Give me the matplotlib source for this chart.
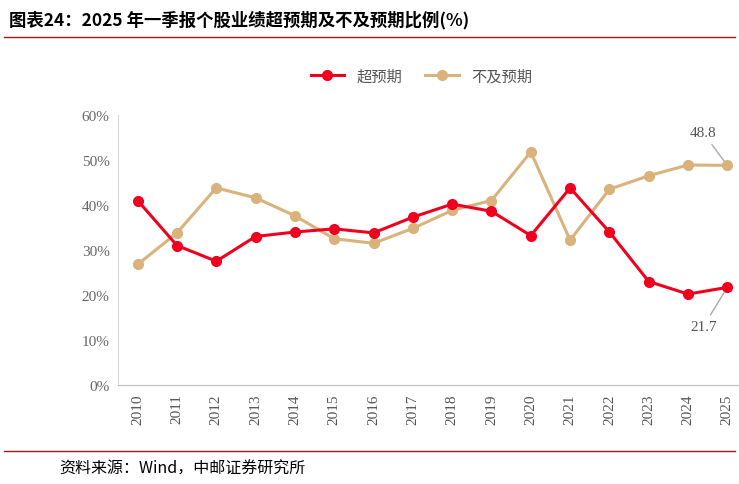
import matplotlib.pyplot as plt
from matplotlib.lines import Line2D

years = [str(y) for y in range(2010, 2026)]
beat = [41.0, 31.0, 27.5, 33.0, 34.0, 34.7, 33.8, 37.3, 40.2, 38.6, 33.2, 43.8, 34.0, 23.0, 20.2, 21.7]
miss = [26.8, 33.8, 43.8, 41.6, 37.6, 32.5, 31.5, 34.8, 38.8, 41.0, 51.8, 32.2, 43.5, 46.5, 48.9, 48.8]

cjk = ['Noto Sans CJK SC', 'DejaVu Sans']
red = '#F0001E'
tan = '#D9B27C'

fig = plt.figure(figsize=(7.39, 4.85), dpi=100)
ax = fig.add_axes([118 / 739, 1 - 386 / 485, (747 - 118) / 739, (386 - 116) / 485])
x = range(len(years))
ax.plot(x, beat, color=red, lw=2.2, marker='o', ms=7, label='超预期', zorder=3)
ax.plot(x, miss, color=tan, lw=2.2, marker='o', ms=7, label='不及预期', zorder=2)
ax.set_xlim(-0.5, 15.5)
ax.set_ylim(0, 60)
ax.set_yticks(range(0, 61, 10))
ax.set_yticklabels([f'{v}%' for v in range(0, 61, 10)], family='Liberation Serif', fontsize=11, color='#666666')
ax.set_xticks(list(x))
ax.set_xticklabels(years, rotation=90, family='Liberation Serif', fontsize=11, color='#555555')
ax.tick_params(length=0, pad=6)
for s in ['top', 'right']:
    ax.spines[s].set_visible(False)
ax.spines['left'].set_color('#d9d9d9')
ax.spines['bottom'].set_color('#bfbfbf')

ax.annotate(f'{miss[-1]:.1f}', (15, miss[-1]), xytext=(14.05, 56), fontsize=11,
            family='Liberation Serif', color='#555555', annotation_clip=False, va='center',
            arrowprops=dict(arrowstyle='-', color='#aaaaaa', lw=1, shrinkA=2, shrinkB=4))
ax.annotate(f'{beat[-1]:.1f}', (15, beat[-1]), xytext=(14.05, 13), fontsize=11,
            family='Liberation Serif', color='#555555', annotation_clip=False, va='center',
            arrowprops=dict(arrowstyle='-', color='#aaaaaa', lw=1, shrinkA=2, shrinkB=4))

fig.legend(handles=[Line2D([], [], color=red, lw=2.2, marker='o', ms=7),
                    Line2D([], [], color=tan, lw=2.2, marker='o', ms=7)],
           labels=['超预期', '不及预期'], loc='center', bbox_to_anchor=(0.57, 1 - 77 / 485),
           ncol=2, frameon=False, prop={'family': cjk, 'size': 11}, handlelength=2.2,
           columnspacing=1.5, labelcolor='#555555')

fig.text(0.012, 1 - 20 / 485, '图表24：2025 年一季报个股业绩超预期及不及预期比例(%)', family=cjk,
         fontsize=12.5, fontweight='bold', va='center')
fig.add_artist(Line2D([0.005, 0.995], [1 - 38 / 485] * 2, color='#9B1B1E', lw=1))
fig.add_artist(Line2D([0.005, 0.995], [1 - 452 / 485] * 2, color='#9B1B1E', lw=1))
fig.text(0.08, 1 - 469 / 485, '资料来源：Wind，中邮证券研究所', family=cjk, fontsize=11.5, va='center')

fig.savefig('out.png', dpi=100)
